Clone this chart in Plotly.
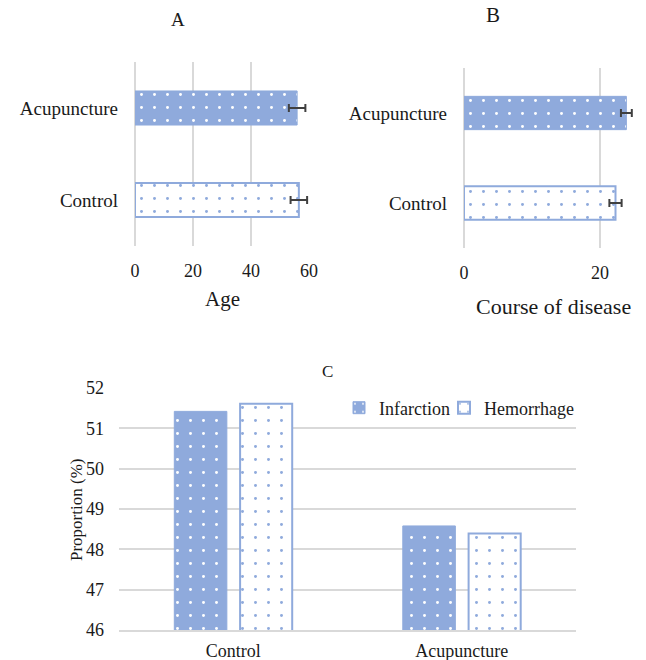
import plotly.graph_objects as go

# ---- data ----
groups_ab = ["Control", "Acupuncture"]
age_mean = [56.5, 55.9]
age_err = [2.85, 2.85]
course_mean = [22.3, 23.9]
course_err = [0.9, 0.8]

groups_c = ["Control", "Acupuncture"]
infarction = [51.42, 48.58]
hemorrhage = [51.61, 48.39]

age_ticks = [0, 20, 40, 60]
course_ticks = [0, 20]
prop_ticks = [46, 47, 48, 49, 50, 51, 52]

BLUE = "#8FAADC"
GRID = "#D9D9D9"
ERR = "#404040"
TXT = "#1a1a1a"
FONT = "Liberation Serif, Times New Roman, serif"
W, H = 646, 660


def px(v):
    return v / W


def py(v):
    return 1 - v / H


solid_pat = dict(shape=".", bgcolor=BLUE, fgcolor="white", size=13, solidity=0.04, fillmode="replace")
open_pat = dict(shape=".", bgcolor="white", fgcolor=BLUE, size=13, solidity=0.04, fillmode="replace")

fig = go.Figure()

# Panel A: per-category styles (Acupuncture solid, Control open)
for i, g in enumerate(groups_ab):
    solid = g == "Acupuncture"
    fig.add_trace(go.Bar(
        y=[g], x=[age_mean[i]], orientation="h", width=0.37,
        marker=dict(color=BLUE if solid else "white",
                    line=dict(color=BLUE, width=1 if solid else 2),
                    pattern=solid_pat if solid else open_pat),
        error_x=dict(type="data", array=[age_err[i]], color=ERR, thickness=2, width=4),
        xaxis="x", yaxis="y", showlegend=False, hoverinfo="skip"))

# Panel B
for i, g in enumerate(groups_ab):
    solid = g == "Acupuncture"
    fig.add_trace(go.Bar(
        y=[g], x=[course_mean[i]], orientation="h", width=0.37,
        marker=dict(color=BLUE if solid else "white",
                    line=dict(color=BLUE, width=1 if solid else 2),
                    pattern=solid_pat if solid else open_pat),
        error_x=dict(type="data", array=[course_err[i]], color=ERR, thickness=2, width=4),
        xaxis="x2", yaxis="y2", showlegend=False, hoverinfo="skip"))

# Panel C
fig.add_trace(go.Bar(
    x=groups_c, y=infarction, name="Infarction", width=0.23, offset=-0.258,
    marker=dict(color=BLUE, line=dict(color=BLUE, width=1), pattern=solid_pat),
    xaxis="x3", yaxis="y3", legend="legend"))
fig.add_trace(go.Bar(
    x=groups_c, y=hemorrhage, name="Hemorrhage", width=0.228, offset=0.03,
    marker=dict(color="white", line=dict(color=BLUE, width=2), pattern=open_pat),
    xaxis="x3", yaxis="y3", legend="legend2"))

tickfont = dict(family=FONT, size=18, color=TXT)
legfont = dict(family=FONT, size=18, color=TXT)


def ann(text, x, y, size, angle=0):
    return dict(text=text, x=px(x), y=py(y), xref="paper", yref="paper", showarrow=False,
                xanchor="center", yanchor="middle", textangle=angle,
                font=dict(family=FONT, size=size, color=TXT))


fig.update_layout(
    width=W, height=H, margin=dict(l=0, r=0, t=0, b=0, autoexpand=False),
    paper_bgcolor="white", plot_bgcolor="white",
    barmode="overlay",
    font=dict(family=FONT, size=18, color=TXT),
    xaxis=dict(domain=[px(135), px(309)], anchor="y", range=[0, 60], tickvals=age_ticks,
               showgrid=True, gridcolor=GRID, gridwidth=1.5, zeroline=True, zerolinecolor=GRID,
               zerolinewidth=1.5, showline=False, ticks="", tickfont=tickfont, ticklabelstandoff=12,
               automargin=False),
    yaxis=dict(domain=[py(246), py(62)], anchor="x", type="category", categoryorder="array",
               categoryarray=groups_ab, showgrid=False, showline=False, ticks="",
               tickfont=dict(family=FONT, size=19, color=TXT), ticklabelstandoff=16,
               automargin=False),
    xaxis2=dict(domain=[px(464), px(642)], anchor="y2", range=[0, 26.2], tickvals=course_ticks,
                showgrid=True, gridcolor=GRID, gridwidth=1.5, zeroline=True, zerolinecolor=GRID,
                zerolinewidth=1.5, showline=False, ticks="", tickfont=tickfont, ticklabelstandoff=12,
                automargin=False),
    yaxis2=dict(domain=[py(248), py(68)], anchor="x2", type="category", categoryorder="array",
                categoryarray=groups_ab, showgrid=False, showline=False, ticks="",
                tickfont=dict(family=FONT, size=19, color=TXT), ticklabelstandoff=16,
                automargin=False),
    xaxis3=dict(domain=[px(119), px(576)], anchor="y3", type="category", categoryorder="array",
                categoryarray=groups_c, showgrid=False, showline=True, linecolor=GRID, linewidth=1.5,
                ticks="", tickfont=dict(family=FONT, size=18, color=TXT), ticklabelstandoff=4,
                automargin=False),
    yaxis3=dict(domain=[py(630), py(388)], anchor="x3", range=[46, 52], tickvals=prop_ticks,
                showgrid=True, gridcolor=GRID, gridwidth=1.5, zeroline=False, showline=False,
                ticks="", tickfont=dict(family=FONT, size=18, color=TXT), ticklabelstandoff=14,
                automargin=False),
    legend=dict(orientation="h", x=px(339), y=py(408), xanchor="left", yanchor="middle",
                font=legfont, bgcolor="rgba(0,0,0,0)", itemwidth=30),
    legend2=dict(orientation="h", x=px(444), y=py(408), xanchor="left", yanchor="middle",
                 font=legfont, bgcolor="rgba(0,0,0,0)", itemwidth=30),
    annotations=[
        ann("A", 178, 20, 19),
        ann("B", 493, 15, 21),
        ann("C", 327, 371, 17),
        ann("Age", 222, 299, 21),
        ann("Course of disease", 553, 306, 22),
        ann("Proportion (%)", 76, 510, 17, -90),
    ],
)

fig.write_html("out.html", config={"displayModeBar": False},
               post_script="document.body.style.margin='0';")
